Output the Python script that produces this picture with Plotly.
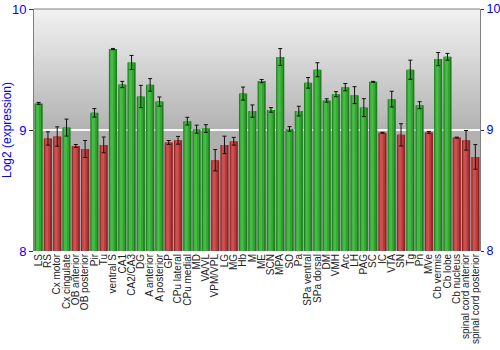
import base64
import plotly.graph_objects as go

regions = ["LS", "RS", "Cx motor", "Cx cingulate", "OB anterior", "OB posterior", "Pir", "Tu",
           "ventral S", "CA1", "CA2/CA3", "DG", "A anterior", "A posterior", "GP", "CPu lateral",
           "CPu medial", "MD", "VA/VL", "VPM/VPL", "LG", "MG", "Hb", "M", "ME", "SCN", "MPA", "SO",
           "Pa", "SPa ventral", "SPa dorsal", "DM", "VMH", "Arc", "LH", "PAG", "SC", "IC", "VTA",
           "SN", "Tg", "Pn", "MVe", "Cb vermis", "Cb lobe", "Cb nucleus", "spinal cord anterior",
           "spinal cord posterior"]
expression = [9.22, 8.93, 8.946, 9.02, 8.868, 8.843, 9.142, 8.877,
              9.669, 9.376, 9.558, 9.277, 9.373, 9.235, 8.897, 8.915,
              9.073, 9.007, 9.012, 8.75, 8.877, 8.907, 9.301, 9.156, 9.404, 9.166, 9.603, 9.009,
              9.156, 9.39, 9.498, 9.244, 9.296, 9.354, 9.288, 9.185, 9.398, 8.977, 9.255,
              8.96, 9.498, 9.205, 8.98, 9.586, 9.605, 8.937, 8.915,
              8.777]
errors = [0.008, 0.055, 0.08, 0.07, 0.012, 0.07, 0.035, 0.065,
          0.005, 0.026, 0.058, 0.092, 0.052, 0.038, 0.016, 0.032,
          0.032, 0.033, 0.032, 0.088, 0.072, 0.032, 0.054, 0.051, 0.013, 0.019, 0.07, 0.019,
          0.04, 0.044, 0.058, 0.014, 0.021, 0.03, 0.07, 0.074, 0.004, 0.004, 0.065,
          0.092, 0.079, 0.029, 0.008, 0.054, 0.028, 0.004, 0.081,
          0.102]
y_ticks = [8, 9, 10]
threshold = 9

up = [v > threshold for v in expression]
edge_col = ["#1f7f1f" if u else "#8e2424" for u in up]
mid_col = ["#32a532" if u else "#b73c3c" for u in up]
hi_col = ["#46bb46" if u else "#cc5252" for u in up]

svg = ('<svg xmlns="http://www.w3.org/2000/svg" width="100" height="100" preserveAspectRatio="none">'
       '<defs><linearGradient id="g" x1="0" y1="0" x2="0" y2="1">'
       '<stop offset="0" stop-color="#f2f2f2"/><stop offset="0.5" stop-color="#b2b2b2"/>'
       '<stop offset="1" stop-color="#a2a2a2"/></linearGradient></defs>'
       '<rect width="100" height="100" fill="url(#g)"/></svg>')
src = "data:image/svg+xml;base64," + base64.b64encode(svg.encode()).decode()

fig = go.Figure()
fig.add_trace(go.Bar(x=regions, y=expression, width=0.88, marker=dict(color=edge_col, line=dict(width=0)),
                     hoverinfo="skip"))
fig.add_trace(go.Bar(x=regions, y=expression, width=0.6, offset=-0.34,
                     marker=dict(color=mid_col, line=dict(width=0)), hoverinfo="skip"))
fig.add_trace(go.Bar(x=regions, y=expression, width=0.3, offset=-0.26,
                     marker=dict(color=hi_col, line=dict(width=0)),
                     hoverinfo="skip"))
fig.add_trace(go.Bar(x=regions, y=expression, width=0.88, marker=dict(color="rgba(0,0,0,0)", line=dict(width=0)),
                     error_y=dict(type="data", array=errors, visible=True, color="#111111",
                                  thickness=1, width=2)))
fig.add_trace(go.Scatter(x=[regions[0]], y=[8], yaxis="y2", mode="markers",
                         marker=dict(opacity=0), hoverinfo="skip", showlegend=False))

fig.update_layout(
    width=500, height=350,
    margin=dict(l=34, r=20, t=9, b=99, autoexpand=False),
    barmode="overlay",
    showlegend=False,
    paper_bgcolor="white",
    plot_bgcolor="rgba(0,0,0,0)",
    font=dict(family="Liberation Sans, Arial, sans-serif"),
    images=[dict(source=src, xref="paper", yref="paper", x=0, y=1, sizex=1, sizey=1,
                 sizing="stretch", layer="below", xanchor="left", yanchor="top")],
    xaxis=dict(tickmode="array", tickvals=regions, ticktext=regions, range=[-0.5, len(regions) - 0.5],
               tickangle=-90, tickfont=dict(size=10, color="#222222"), showgrid=False,
               showline=False, ticks="", automargin=False),
    yaxis=dict(range=[8, 10], tickvals=y_ticks, tickfont=dict(size=13, color="#0000ff"),
               title=dict(text="Log2 (expression)", font=dict(size=12, color="#0000ff"), standoff=4),
               showgrid=True, gridcolor="#f8f8f8", gridwidth=1.5, zeroline=False,
               showline=True, linecolor="#808080", linewidth=1, mirror=False,
               ticks="outside", ticklen=4, tickcolor="#333333", automargin=False),
    yaxis2=dict(range=[8, 10], tickvals=y_ticks, overlaying="y", side="right",
                tickfont=dict(size=12.5, color="#0000ff"), showgrid=False, zeroline=False,
                showline=True, linecolor="#808080", linewidth=1,
                ticks="outside", ticklen=3, tickcolor="#333333", automargin=False,
                ticklabelstandoff=0),
    shapes=[dict(type="line", xref="paper", yref="paper", x0=0, x1=1, y0=1, y1=1,
                 line=dict(color="#808080", width=1))],
)

fig.write_html("out.html")
